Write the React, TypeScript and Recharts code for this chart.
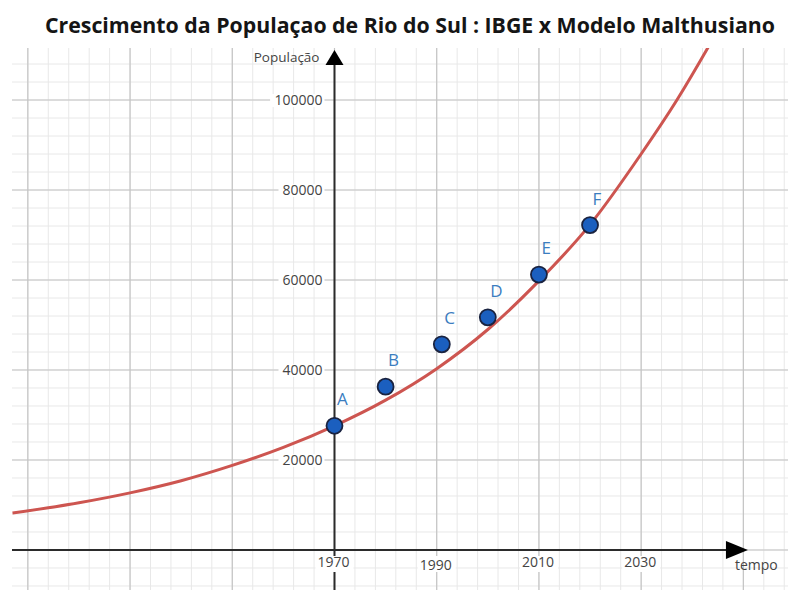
import React from 'react';
import { ComposedChart, Line, Scatter, XAxis, YAxis, ReferenceLine, ReferenceDot, LabelList } from 'recharts';

// IBGE census points
const pointNames = ['A', 'B', 'C', 'D', 'E', 'F'];
const pointYears = [1970, 1980, 1991, 2000, 2010, 2020];
const pointPop = [27600, 36300, 45700, 51700, 61200, 72200];

// Malthusian model curve
const curveYears = [1907, 1920, 1930, 1940, 1950, 1960, 1970, 1980, 1990, 2000, 2010, 2020, 2030, 2037, 2043, 2045];
const curvePop = [8200, 10500, 12700, 15400, 18800, 22800, 27600, 33300, 40300, 49000, 59800, 72300, 88000, 100000, 111500, 115500];

const yTickLabels = [20000, 40000, 60000, 80000, 100000];
const xTickLabels = [1970, 1990, 2010, 2030];

const majorYears = [1910, 1930, 1950, 1970, 1990, 2010, 2030, 2050];
const majorPops = [-20000, 0, 20000, 40000, 60000, 80000, 100000];

const minorYears: number[] = [];
for (let y = 1902; y <= 2062; y += 4) minorYears.push(y);
const minorPops: number[] = [];
for (let p = -12000; p <= 112000; p += 4000) minorPops.push(p);

const curveData = curveYears.map((year, i) => ({ year, pop: curvePop[i] }));
const pointData = pointYears.map((year, i) => ({ year, pop: pointPop[i], name: pointNames[i] }));

const FONT = '"Open Sans", sans-serif';
const AXIS = '#2b2b2b';
const TXT = '#444';

const YAxisShape = (p: any) => {
  const x = p.x1;
  const top = Math.min(p.y1, p.y2);
  const bottom = Math.max(p.y1, p.y2);
  const tip = top + 2;
  return (
    <g>
      <line x1={x} y1={tip + 8} x2={x} y2={bottom} stroke={AXIS} strokeWidth={2} />
      <polygon points={`${x},${tip} ${x - 9},${tip + 15} ${x + 9},${tip + 15}`} fill="#000" />
      <text x={x - 15} y={tip + 12} textAnchor="end" fontSize={13.5} fontFamily={FONT} fill={TXT}>
        População
      </text>
    </g>
  );
};

const XAxisShape = (p: any) => {
  const y = p.y1;
  const left = Math.min(p.x1, p.x2);
  const tip = Math.max(p.x1, p.x2);
  return (
    <g>
      <line x1={left} y1={y} x2={tip - 10} y2={y} stroke={AXIS} strokeWidth={2} />
      <polygon points={`${tip},${y} ${tip - 22},${y - 9} ${tip - 22},${y + 9}`} fill="#000" />
      <text x={tip - 13} y={y + 20} textAnchor="start" fontSize={14} fontFamily={FONT} fill={TXT}>
        tempo
      </text>
    </g>
  );
};

const yTickLabel = (value: number) => (props: any) => {
  const { x, y } = props.viewBox;
  const w = String(value).length * 8.4 + 4;
  return (
    <g>
      <rect x={x - 10 - w} y={y - 6} width={w} height={13} fill="#fff" />
      <text x={x - 12} y={y + 5} textAnchor="end" fontSize={14} fontFamily={FONT} fill={TXT}>
        {value}
      </text>
    </g>
  );
};

const xTickLabel = (value: number) => (props: any) => {
  const { x, y } = props.viewBox;
  return (
    <g>
      <rect x={x - 19} y={y + 6} width={38} height={16} fill="#fff" />
      <text x={x - 1} y={y + (value === 1990 ? 20 : 17)} textAnchor="middle" fontSize={14} fontFamily={FONT} fill={TXT}>
        {value}
      </text>
    </g>
  );
};

const Dot = (p: any) => (
  <circle cx={p.cx} cy={p.cy} r={8} fill="#1b5fbf" stroke="#1a2340" strokeWidth={1.8} />
);

const PointLabel = (p: any) => (
  <text x={p.x + 7} y={p.y - 16} fontSize={17} fontFamily={FONT} fill="#3b7dbf">
    {p.value}
  </text>
);

export default function App() {
  return (
    <div style={{ position: 'relative', width: 796, height: 598, margin: -8, background: '#fff' }}>
      <div
        style={{
          position: 'absolute',
          left: 0,
          width: 820,
          top: 15,
          textAlign: 'center',
          fontFamily: FONT,
          fontWeight: 700,
          fontSize: 21.3,
          lineHeight: '20px',
          color: '#151515',
          zIndex: 2,
        }}
      >
        Crescimento da Populaçao de Rio do Sul : IBGE x Modelo Malthusiano
      </div>
      <ComposedChart width={796} height={598} margin={{ top: 48, right: 0, bottom: 0, left: 12 }}>
        <XAxis type="number" dataKey="year" domain={[1906.9, 2060.3]} allowDataOverflow hide />
        <YAxis type="number" dataKey="pop" domain={[-10667, 111556]} allowDataOverflow hide />
        {minorYears.map((v) => (
          <ReferenceLine key={'mx' + v} x={v} stroke="#e8e8e8" strokeWidth={1} />
        ))}
        {minorPops.map((v) => (
          <ReferenceLine key={'my' + v} y={v} stroke="#e8e8e8" strokeWidth={1} />
        ))}
        {majorYears.map((v) => (
          <ReferenceLine key={'Mx' + v} x={v} stroke="#c4c4c4" strokeWidth={1.2} />
        ))}
        {majorPops.map((v) => (
          <ReferenceLine key={'My' + v} y={v} stroke="#c4c4c4" strokeWidth={1.2} />
        ))}
        <ReferenceLine x={1970} shape={YAxisShape} />
        <ReferenceLine
          segment={[
            { x: 1906.9, y: 0 },
            { x: 2050.9, y: 0 },
          ]}
          shape={XAxisShape}
        />
        {yTickLabels.map((v) => (
          <ReferenceDot key={'yl' + v} x={1970} y={v} r={0} fill="none" stroke="none" label={yTickLabel(v)} />
        ))}
        {xTickLabels.map((v) => (
          <ReferenceDot key={'xl' + v} x={v} y={0} r={0} fill="none" stroke="none" label={xTickLabel(v)} />
        ))}
        <Line
          data={curveData}
          dataKey="pop"
          type="monotone"
          stroke="#cd5550"
          strokeWidth={3}
          dot={false}
          isAnimationActive={false}
        />
        <Scatter data={pointData} dataKey="pop" shape={Dot} isAnimationActive={false}>
          <LabelList dataKey="name" content={PointLabel} />
        </Scatter>
      </ComposedChart>
    </div>
  );
}
